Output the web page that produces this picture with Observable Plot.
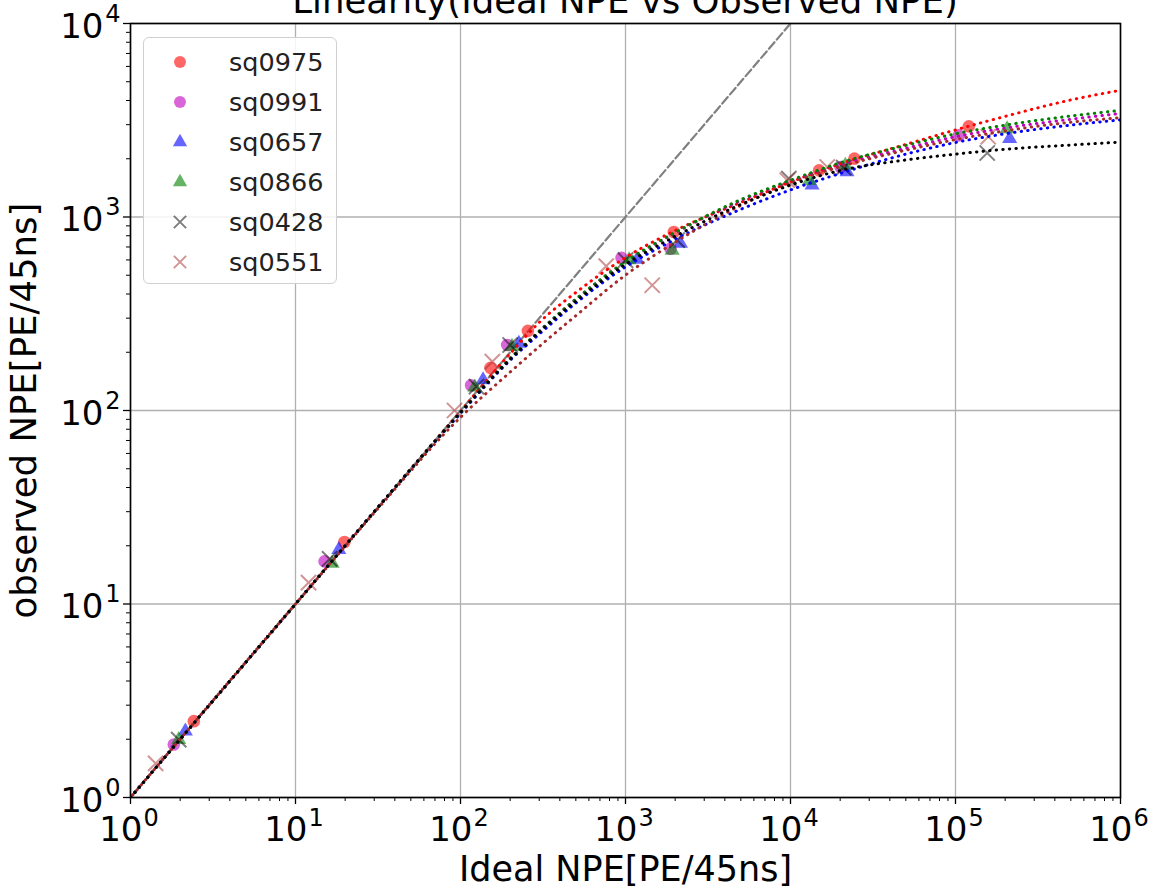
<!DOCTYPE html>
<html>
<head>
<meta charset="utf-8">
<script src="https://cdn.jsdelivr.net/npm/d3@7"></script>
<script src="https://cdn.jsdelivr.net/npm/@observablehq/plot@0.6"></script>
<style>
  html, body { margin: 0; padding: 0; background: #fff; overflow: hidden; }
  #wrap { position: relative; width: 1153px; height: 888px; font-family: "DejaVu Sans", sans-serif; }
  #title { position: absolute; left: 625px; top: -17px; transform: translateX(-50%); white-space: nowrap;
           font-size: 35.5px; line-height: 36px; color: #000; z-index: 2; }
  #legend { position: absolute; left: 143px; top: 37px; width: 194px; height: 247px; box-sizing: border-box;
            border: 1.3px solid #d0d0d0; border-radius: 6px; background: rgba(255,255,255,0.85); z-index: 3; }
</style>
</head>
<body>
<div id="wrap">
  <div id="title">Linearity(Ideal NPE vs Observed NPE)</div>
  <div id="chart"></div>
  <div id="legend"></div>
</div>
<script>
// ---------- data ----------
const seriesNames = ["sq0975", "sq0991", "sq0657", "sq0866", "sq0428", "sq0551"];

const sq0975_x = [2.42, 19.8, 152, 256, 1963, 14900, 24400, 120400];
const sq0975_y = [2.48, 20.9, 166, 258, 837, 1742, 2004, 2940];

const sq0991_x = [1.83, 15.0, 116, 192, 946, 1874, 20100, 104800];
const sq0991_y = [1.88, 16.6, 135, 218, 615, 686, 1813, 2642];

const sq0657_x = [2.15, 18.3, 137, 226, 1176, 2154, 13500, 22000, 213000];
const sq0657_y = [2.2, 19.1, 144, 222, 603, 730, 1459, 1708, 2540];

const sq0866_x = [1.96, 16.7, 122, 205, 1050, 1919, 13000, 21500, 205500];
const sq0866_y = [1.99, 16.2, 132, 214, 600, 673, 1540, 1849, 2850];

const sq0428_x = [1.96, 16.1, 125, 200, 1000, 2056, 9770, 21000, 155700];
const sq0428_y = [1.99, 17.1, 133, 218, 598, 759, 1579, 1800, 2142];

const sq0551_x = [1.42, 12.0, 92, 156, 764, 1452, 9550, 16700, 158000];
const sq0551_y = [1.5, 12.9, 100, 179, 557, 444, 1549, 1813, 2600];

// fitted curves
const fitX       = [1, 10, 30, 100, 200, 300, 500, 1000, 2000, 5000, 10000, 20000, 50000, 100000, 200000, 500000, 1000000];
const fit_sq0975 = [1, 10, 30, 99.1, 197, 285, 407, 617, 851, 1189, 1514, 1884, 2371, 2818, 3311, 4027, 4519];
const fit_sq0991 = [1, 10, 30, 97.7, 186, 257, 376, 586, 828, 1216, 1531, 1862, 2265, 2600, 2884, 3199, 3428];
const fit_sq0657 = [1, 10, 30, 96.6, 182, 248, 359, 552, 767, 1096, 1380, 1679, 2113, 2427, 2692, 2985, 3177];
const fit_sq0866 = [1, 10, 30, 97.7, 186, 257, 376, 589, 832, 1230, 1549, 1905, 2344, 2692, 2985, 3327, 3556];
const fit_sq0428 = [1, 10, 30, 97.7, 184, 254, 367, 569, 794, 1161, 1462, 1738, 1972, 2113, 2239, 2355, 2438];
const fit_sq0551 = [1, 10, 29.6, 92.3, 158, 214, 309, 501, 741, 1148, 1496, 1820, 2213, 2512, 2786, 3090, 3258];

const identityLine = [1, 10000];

const xTickValues = [1, 10, 100, 1000, 10000, 100000, 1000000];
const xTickExponents = ["0", "1", "2", "3", "4", "5", "6"];
const yTickValues = [1, 10, 100, 1000, 10000];
const yTickExponents = ["0", "1", "2", "3", "4"];
const tickBase = "10";

const xLabel = "Ideal NPE[PE/45ns]";
const yLabel = "observed NPE[PE/45ns]";

// ---------- tables ----------
const pointData = {
  sq0975: [sq0975_x, sq0975_y], sq0991: [sq0991_x, sq0991_y], sq0657: [sq0657_x, sq0657_y],
  sq0866: [sq0866_x, sq0866_y], sq0428: [sq0428_x, sq0428_y], sq0551: [sq0551_x, sq0551_y]
};
const fitData = {
  sq0975: fit_sq0975, sq0991: fit_sq0991, sq0657: fit_sq0657,
  sq0866: fit_sq0866, sq0428: fit_sq0428, sq0551: fit_sq0551
};
const styles = {
  sq0975: {marker: "circle",   color: "#ff0000", op: 0.6, r: 6.3, line: "#ff0000", off: 0},
  sq0991: {marker: "circle",   color: "#bf00bf", op: 0.6, r: 6.3, line: "#bf00bf", off: 0},
  sq0657: {marker: "triangle", color: "#0000ff", op: 0.6, r: 5.6, line: "#0000ff", off: 0},
  sq0866: {marker: "triangle", color: "#008000", op: 0.6, r: 5.6, line: "#008000", off: 0},
  sq0428: {marker: "times",    color: "#000000", op: 0.5, r: 7,   line: "#000000", off: 0},
  sq0551: {marker: "times",    color: "#a52a2a", op: 0.5, r: 7,   line: "#a52a2a", off: 3.3}
};
const lineOrder = ["sq0975", "sq0991", "sq0657", "sq0866", "sq0551", "sq0428"];

const xTicks = xTickValues.map((v, i) => ({v, e: xTickExponents[i]}));
const yTicks = yTickValues.map((v, i) => ({v, e: yTickExponents[i]}));
const minorX = d3.range(0, 6).flatMap(k => d3.range(2, 10).map(m => m * 10 ** k));
const minorY = d3.range(0, 4).flatMap(k => d3.range(2, 10).map(m => m * 10 ** k));

const marks = [
  Plot.gridX(xTickValues, {stroke: "#b0b0b0", strokeOpacity: 1, strokeWidth: 1.3}),
  Plot.gridY(yTickValues, {stroke: "#b0b0b0", strokeOpacity: 1, strokeWidth: 1.3}),
  Plot.line(identityLine, {x: d => d, y: d => d, stroke: "#808080", strokeWidth: 2.2, strokeDasharray: "8.5,3.5", clip: true})
];

for (const s of seriesNames) {
  const st = styles[s];
  const [xs, ys] = pointData[s];
  const pts = xs.map((x, i) => ({x, y: ys[i]}));
  const isStroke = st.marker === "times";
  marks.push(Plot.dot(pts, {
    x: "x", y: "y", symbol: st.marker, r: st.r,
    fill: isStroke ? "none" : st.color, fillOpacity: st.op,
    stroke: isStroke ? st.color : "none", strokeOpacity: st.op, strokeWidth: 2
  }));
}
for (const s of lineOrder) {
  const st = styles[s];
  const fit = fitX.map((x, i) => ({x, y: fitData[s][i]}));
  marks.push(Plot.line(fit, {
    x: "x", y: "y", stroke: st.line, strokeWidth: 3, strokeDasharray: "0.4,6.2",
    strokeLinecap: "round", strokeDashoffset: st.off, curve: "monotone-x", clip: true
  }));
}

marks.push(
  Plot.frame({stroke: "#000", strokeWidth: 1.6}),
  Plot.axisX(xTickValues, {tickSize: 7, tickFormat: () => "", label: null, strokeWidth: 1.3}),
  Plot.axisX(minorX, {tickSize: 4, tickFormat: () => "", label: null, strokeWidth: 1}),
  Plot.axisY(yTickValues, {tickSize: 7, tickFormat: () => "", label: null, strokeWidth: 1.3}),
  Plot.axisY(minorY, {tickSize: 4, tickFormat: () => "", label: null, strokeWidth: 1}),
  // x tick labels: "10" + superscript exponent
  Plot.text(xTicks, {x: "v", frameAnchor: "bottom", text: () => tickBase, textAnchor: "end",
    lineAnchor: "bottom", dx: 12, dy: 43, fontSize: 34, fill: "#000"}),
  Plot.text(xTicks, {x: "v", frameAnchor: "bottom", text: "e", textAnchor: "start",
    lineAnchor: "bottom", dx: 13, dy: 28, fontSize: 24, fill: "#000"}),
  // y tick labels
  Plot.text(yTicks, {y: "v", frameAnchor: "left", text: () => tickBase, textAnchor: "end",
    lineAnchor: "bottom", dx: -27, dy: 14, fontSize: 34, fill: "#000"}),
  Plot.text(yTicks, {y: "v", frameAnchor: "left", text: "e", textAnchor: "end",
    lineAnchor: "bottom", dx: -10, dy: -2, fontSize: 24, fill: "#000"}),
  // axis labels
  Plot.text([xLabel], {frameAnchor: "bottom", text: d => d, textAnchor: "middle", lineAnchor: "bottom", dy: 83, fontSize: 35, fill: "#000"}),
  Plot.text([yLabel], {frameAnchor: "left", text: d => d, textAnchor: "middle", rotate: -90, lineAnchor: "bottom", dx: -95, fontSize: 35.5, fill: "#000"})
);

const chart = Plot.plot({
  width: 1153, height: 888,
  marginTop: 23, marginLeft: 130, marginRight: 33, marginBottom: 91,
  x: {type: "log", domain: [1, 1e6]},
  y: {type: "log", domain: [1, 1e4]},
  style: {fontFamily: "DejaVu Sans", background: "#fff", overflow: "visible"},
  marks
});
document.getElementById("chart").appendChild(chart);

// ---------- legend ----------
const leg = d3.select("#legend").append("svg").attr("width", 192).attr("height", 245)
  .style("position", "absolute").style("left", "0px").style("top", "0px");
const symMap = {circle: d3.symbolCircle, triangle: d3.symbolTriangle, times: d3.symbolTimes};
seriesNames.forEach((s, i) => {
  const st = styles[s];
  const cy = 24 + i * 40;
  const g = leg.append("g").attr("transform", `translate(36,${cy})`);
  const size = Math.PI * st.r * st.r * (st.marker === "times" ? 0.65 : 0.9);
  const p = g.append("path").attr("d", d3.symbol(symMap[st.marker], size)());
  if (st.marker === "times") p.attr("fill", "none").attr("stroke", st.color).attr("stroke-opacity", st.op).attr("stroke-width", 2);
  else p.attr("fill", st.color).attr("fill-opacity", st.op);
  leg.append("text").attr("x", 85).attr("y", cy + 9).attr("font-size", 25.5)
    .attr("font-family", "DejaVu Sans").attr("fill", "#222").text(s);
});
</script>
</body>
</html>
